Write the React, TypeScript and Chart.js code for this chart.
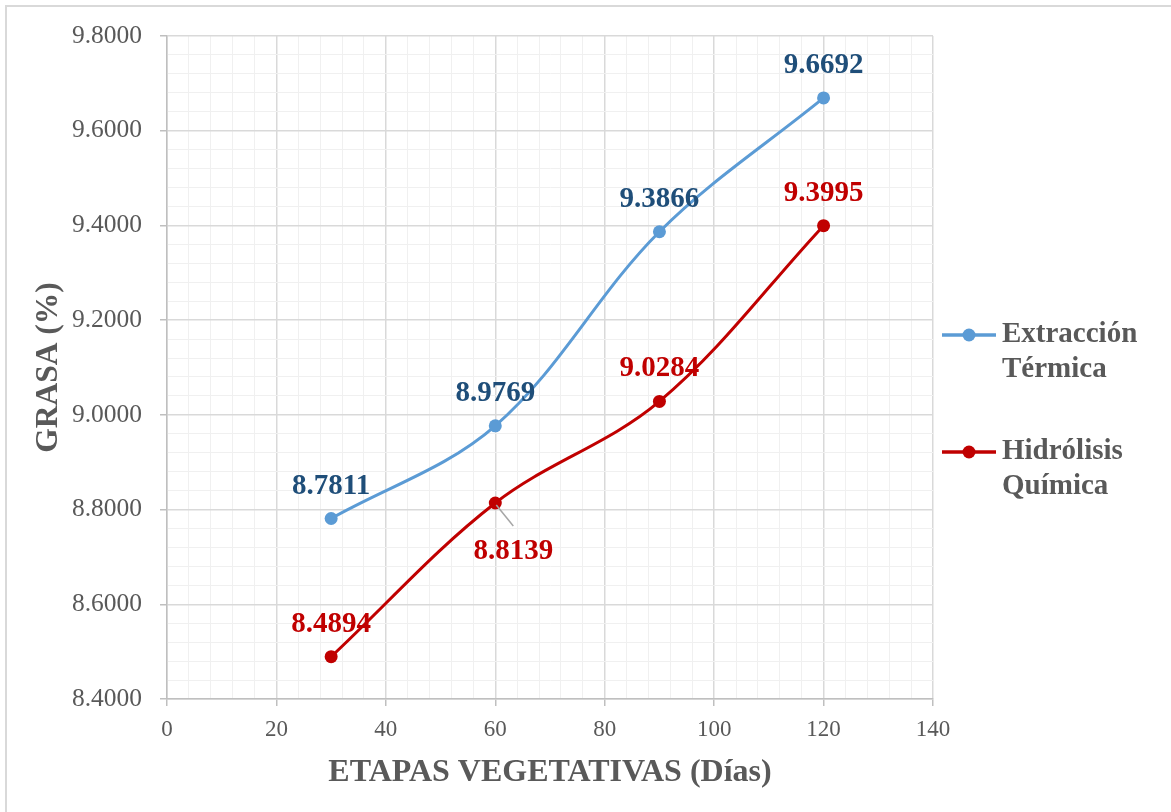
import React, { useEffect, useRef } from "react";
import { Chart, registerables } from "chart.js";

Chart.register(...registerables);

const days = [30, 60, 90, 120];
const extraccionTermica = [8.7811, 8.9769, 9.3866, 9.6692];
const hidrolisisQuimica = [8.4894, 8.8139, 9.0284, 9.3995];
const seriesNames = [["Extracción", "Térmica"], ["Hidrólisis", "Química"]];
const xTitle = "ETAPAS VEGETATIVAS (Días)";
const yTitle = "GRASA (%)";

const BLUE = "#5b9bd5";
const RED = "#c00000";
const BLUE_LABEL = "#1f4e79";
const TEXT = "#595959";
const FONT = '"Liberation Serif", "Times New Roman", serif';

const overlay = {
  id: "overlay",
  afterDraw(chart: any) {
    const ctx = chart.ctx;
    ctx.save();
    // outer frame
    ctx.strokeStyle = "#d9d9d9";
    ctx.lineWidth = 2;
    ctx.strokeRect(6, 6, 1300, 1000);

    // axis titles
    ctx.fillStyle = TEXT;
    ctx.textAlign = "center";
    ctx.textBaseline = "alphabetic";
    const ca = chart.chartArea;
    ctx.font = `bold 32px ${FONT}`;
    ctx.fillText(xTitle, (ca.left + ca.right) / 2, 781);
    ctx.save();
    ctx.font = `bold 31.5px ${FONT}`;
    ctx.translate(57, (ca.top + ca.bottom) / 2);
    ctx.rotate(-Math.PI / 2);
    ctx.fillText(yTitle, 0, 0);
    ctx.restore();

    // data labels
    ctx.font = `bold 29px ${FONT}`;
    ctx.textBaseline = "alphabetic";
    chart.data.datasets.forEach((ds: any, di: number) => {
      const meta = chart.getDatasetMeta(di);
      meta.data.forEach((pt: any, i: number) => {
        const text = ds.data[i].y.toFixed(4);
        let lx = pt.x;
        let ly = pt.y - 25;
        if (di === 1 && i === 1) {
          lx = pt.x + 18;
          ly = pt.y + 56;
          ctx.strokeStyle = "#a6a6a6";
          ctx.lineWidth = 1.5;
          ctx.beginPath();
          ctx.moveTo(pt.x + 1, pt.y + 2);
          ctx.lineTo(pt.x + 18, pt.y + 23);
          ctx.stroke();
        }
        ctx.fillStyle = di === 0 ? BLUE_LABEL : RED;
        ctx.fillText(text, lx, ly);
      });
    });

    // legend
    const entries = [
      { color: BLUE, y: 335, lines: seriesNames[0] },
      { color: RED, y: 452, lines: seriesNames[1] },
    ];
    entries.forEach((e) => {
      ctx.strokeStyle = e.color;
      ctx.lineWidth = 3.5;
      ctx.beginPath();
      ctx.moveTo(942, e.y);
      ctx.lineTo(996, e.y);
      ctx.stroke();
      ctx.fillStyle = e.color;
      ctx.beginPath();
      ctx.arc(969, e.y, 6.5, 0, Math.PI * 2);
      ctx.fill();
      ctx.fillStyle = TEXT;
      ctx.font = `bold 29px ${FONT}`;
      ctx.textAlign = "left";
      ctx.textBaseline = "middle";
      e.lines.forEach((l, k) => ctx.fillText(l, 1002, e.y + k * 35));
    });
    ctx.restore();
  },
};

export default function App() {
  const ref = useRef<HTMLCanvasElement>(null);
  useEffect(() => {
    if (!ref.current) return;
    const isMajorX = (v: number) => Math.round(v) % 20 === 0;
    const isMajorY = (v: number) => Math.round(v * 100) % 20 === 0;
    const chart = new Chart(ref.current, {
      type: "line",
      data: {
        datasets: [
          {
            label: seriesNames[0].join(" "),
            data: days.map((d, i) => ({ x: d, y: extraccionTermica[i] })),
            borderColor: BLUE,
            backgroundColor: BLUE,
            borderWidth: 3,
            pointRadius: 6.5,
            pointBorderWidth: 0,
            tension: 0.35,
          },
          {
            label: seriesNames[1].join(" "),
            data: days.map((d, i) => ({ x: d, y: hidrolisisQuimica[i] })),
            borderColor: RED,
            backgroundColor: RED,
            borderWidth: 3,
            pointRadius: 6.5,
            pointBorderWidth: 0,
            tension: 0.35,
          },
        ],
      },
      options: {
        responsive: false,
        animation: false,
        layout: { padding: { top: 36, right: 238, left: 0, bottom: 0 } },
        plugins: { legend: { display: false }, tooltip: { enabled: false } },
        scales: {
          x: {
            type: "linear",
            min: 0,
            max: 140,
            afterFit: (s: any) => {
              s.height = 113;
            },
            border: { color: "#bfbfbf", width: 1.5 },
            grid: {
              color: (c: any) => (isMajorX(c.tick.value) ? "#d9d9d9" : "#f0f0f0"),
              lineWidth: (c: any) => (isMajorX(c.tick.value) ? 1.5 : 1),
              tickColor: (c: any) => (isMajorX(c.tick.value) ? "#bfbfbf" : "rgba(0,0,0,0)"),
              tickLength: 7,
            },
            ticks: {
              stepSize: 4,
              autoSkip: false,
              maxRotation: 0,
              padding: 10,
              color: TEXT,
              font: { family: FONT, size: 23 },
              callback: (v: any) => (isMajorX(v) ? String(v) : ""),
            },
          },
          y: {
            type: "linear",
            min: 8.4,
            max: 9.8,
            afterFit: (s: any) => {
              s.width = 167;
            },
            border: { color: "#bfbfbf", width: 1.5 },
            grid: {
              color: (c: any) => (isMajorY(c.tick.value) ? "#d9d9d9" : "#f0f0f0"),
              lineWidth: (c: any) => (isMajorY(c.tick.value) ? 1.5 : 1),
              tickColor: (c: any) => (isMajorY(c.tick.value) ? "#bfbfbf" : "rgba(0,0,0,0)"),
              tickLength: 7,
            },
            ticks: {
              stepSize: 0.04,
              autoSkip: false,
              padding: 18,
              color: TEXT,
              font: { family: FONT, size: 25.5 },
              callback: (v: any) => (isMajorY(v) ? Number(v).toFixed(4) : ""),
            },
          },
        },
      },
      plugins: [overlay],
    });
    return () => chart.destroy();
  }, []);
  return (
    <div style={{ position: "absolute", left: 0, top: 0, width: 1171, height: 812, background: "#fff" }}>
      <canvas ref={ref} width={1171} height={812} style={{ width: 1171, height: 812, display: "block" }} />
    </div>
  );
}
